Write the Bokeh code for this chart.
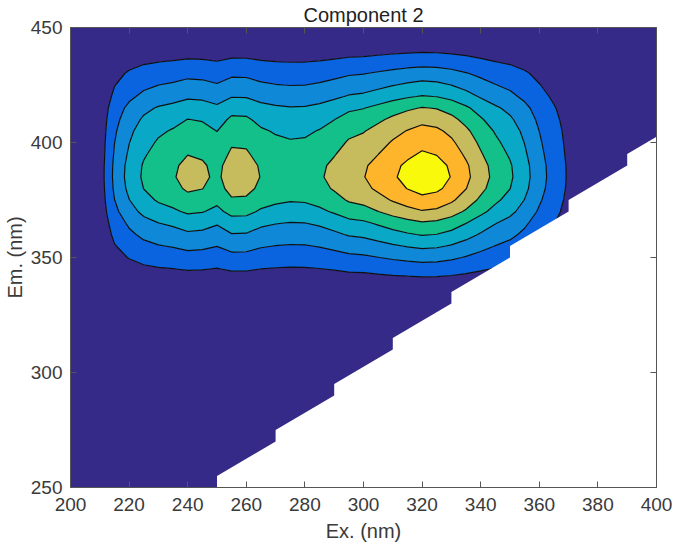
import numpy as np
from bokeh.plotting import figure
from bokeh.models import Range1d, LinearAxis, FixedTicker
from bokeh.embed import file_html
from bokeh.resources import INLINE

# ---------------- data ----------------
ex_nm = list(range(200, 401, 5))
ex_loading = [0.0, 0.01, 0.06, 0.28, 0.42, 0.52, 0.58, 0.615, 0.665, 0.65,
              0.60, 0.69, 0.685, 0.62, 0.59, 0.575, 0.58, 0.61, 0.66, 0.72,
              0.745, 0.80, 0.86, 0.91, 0.95, 0.93, 0.87, 0.78, 0.68, 0.59,
              0.52, 0.42, 0.30, 0.20, 0.11, 0.05, 0.02, 0.01, 0.005, 0.0, 0.0]
em_nm = list(range(250, 451, 5))
em_loading = [0.01, 0.01, 0.01, 0.01, 0.012, 0.012, 0.013, 0.014, 0.015, 0.016,
              0.017, 0.018, 0.02, 0.022, 0.025, 0.03, 0.038, 0.055, 0.10, 0.20,
              0.31, 0.42, 0.535, 0.645, 0.78, 0.885, 0.965, 1.0, 0.985, 0.935,
              0.885, 0.83, 0.755, 0.665, 0.535, 0.43, 0.33, 0.215, 0.115, 0.04, 0.0]
contour_levels = [0.125, 0.25, 0.375, 0.5, 0.625, 0.75, 0.875]
band_colors = ["#352a87", "#0b64df", "#0f88d7", "#09a8c7", "#14c08a",
               "#c6bc5d", "#feb52c", "#f9f90c"]
# scatter-removed region (no data): lower boundary of measured Em per Ex
scatter_ex = [250, 250, 270, 270, 290, 290, 310, 310, 330, 330, 350, 350,
              370, 370, 390, 390, 400]
scatter_em = [250, 255, 270, 275, 290, 295, 310, 315, 330, 335, 350, 355,
              370, 375, 390, 395, 402.5]
ex_ticks = list(range(200, 401, 20))
em_ticks = [250, 300, 350, 400, 450]
title_text = "Component 2"
xlabel = "Ex. (nm)"
ylabel = "Em. (nm)"

# PARAFAC component = excitation loading x emission loading
z = np.outer(np.array(em_loading), np.array(ex_loading))

FONT = "Liberation Sans"
AX = "#555555"
TXT = "#3a3a3a"

p = figure(width=673, height=548, title=title_text,
           x_range=Range1d(ex_nm[0], ex_nm[-1]), y_range=Range1d(em_nm[0], em_nm[-1]),
           output_backend="svg", toolbar_location=None,
           min_border_left=65, min_border_right=17, min_border_top=27, min_border_bottom=61)
p.title.align = "center"
p.title.text_font = FONT
p.title.text_font_size = "20px"
p.title.text_font_style = "normal"
p.title.text_color = "#222222"
p.title.standoff = 3
p.grid.visible = False
p.outline_line_color = None
p.background_fill_color = "white"
p.border_fill_color = "white"

fill_levels = [-0.01] + contour_levels + [1.0]
p.contour(ex_nm, em_nm, z, fill_levels, fill_color=band_colors, line_color=None)
p.contour(ex_nm, em_nm, z, contour_levels, fill_color=None,
          line_color="#101010", line_width=1.2)

p.patch(scatter_ex + [ex_nm[-1]], scatter_em + [em_nm[0]],
        fill_color="white", line_color=None)

p.add_layout(LinearAxis(), "above")
p.add_layout(LinearAxis(), "right")

for ax in p.xaxis:
    ax.ticker = FixedTicker(ticks=ex_ticks)
for ax in p.yaxis:
    ax.ticker = FixedTicker(ticks=em_ticks)

for ax in p.axis:
    ax.major_tick_in = 6
    ax.major_tick_out = 0
    ax.minor_tick_in = 0
    ax.minor_tick_out = 0
    ax.axis_line_color = AX
    ax.major_tick_line_color = AX
    ax.axis_line_width = 1
    ax.major_label_text_font = FONT
    ax.major_label_text_font_size = "19px"
    ax.major_label_text_color = TXT
    ax.axis_label_text_font = FONT
    ax.axis_label_text_font_size = "20px"
    ax.axis_label_text_font_style = "normal"
    ax.axis_label_text_color = TXT

for ax in (p.above[0], p.right[0]):
    ax.major_label_text_font_size = "1px"
    ax.major_label_text_color = None
    ax.major_label_standoff = 0

p.below[0].major_label_standoff = 10
p.below[0].axis_label = xlabel
p.below[0].axis_label_standoff = 6
p.left[0].major_label_standoff = 8
p.left[0].axis_label = ylabel
p.left[0].axis_label_standoff = 2

open("out.html", "w").write(file_html(p, INLINE))
